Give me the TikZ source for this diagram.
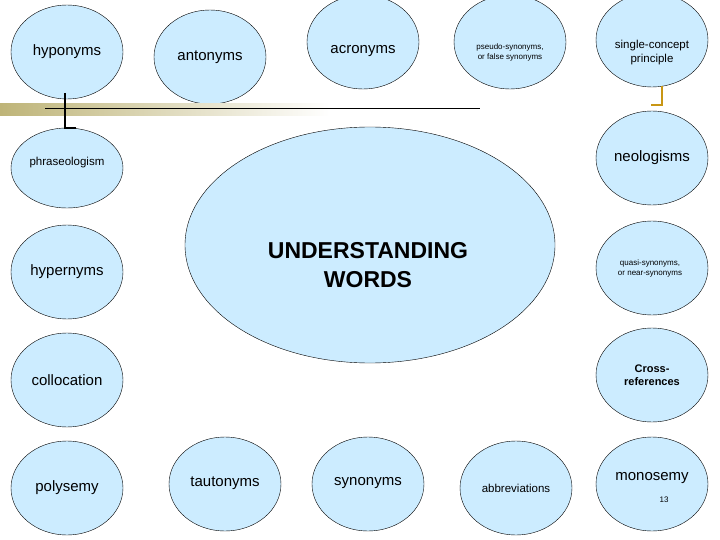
\documentclass[tikz,border=0pt]{standalone}
\usetikzlibrary{shapes.geometric}
\usepackage{fontspec}
\setmainfont{Liberation Sans}
\definecolor{bubble}{RGB}{204,236,255}
\definecolor{gold}{RGB}{200,150,20}
\definecolor{bar}{RGB}{190,180,120}
\begin{document}
\begin{tikzpicture}[x=1pt,y=-1pt,
  bub/.style={ellipse,draw=black,fill=bubble,minimum width=112pt,minimum height=94pt,align=center,inner sep=0pt,font=\fontsize{15}{17}\selectfont},
  big/.style={font=\fontsize{15}{17}\selectfont},
  sm/.style={font=\fontsize{8}{10}\selectfont},
  md/.style={font=\fontsize{11.5}{14}\selectfont}]
\useasboundingbox (0,0) rectangle (720,540);
% center
\node[ellipse,draw=black,fill=bubble,minimum width=370pt,minimum height=236pt] (c) at (370,245) {};
\node[font=\bfseries\fontsize{23}{29}\selectfont,align=center] (ct) at (368,265) {UNDERSTANDING\\WORDS};
% row 1
\node[bub] (hypo) at (67,52) {hyponyms};
\node[bub] (anto) at (210,57) {antonyms};
\node[bub] (acro) at (363,42) {};
\node[big] at (363,51) (acrot) {acronyms};
\node[bub] (pseu) at (510,42) {};
\node[sm,align=center] (pseut) at (510,52) {pseudo-synonyms,\\or false synonyms};
\node[bub] (sing) at (652,40) {};
\node[md,align=center] (singt) at (652,53) {single-concept\\principle};
% left column
\node[bub,minimum height=80pt] (phra) at (67,168) {};
\node[md] (phrat) at (67,163) {phraseologism};
\node[bub] (hype) at (67,272) {hypernyms};
\node[bub] (coll) at (67,380) {collocation};
% right column
\node[bub] (neol) at (652,158) {};
\node[big] (neolt) at (652,158) {neologisms};
\node[bub] (quas) at (652,268) {};
\node[sm,align=center] (quast) at (650,268) {quasi-synonyms,\\or near-synonyms};
\node[bub] (cros) at (652,375) {};
\node[align=center,font=\bfseries\fontsize{11}{13}\selectfont] (crost) at (652,375) {Cross-\\references};
% bottom row
\node[bub] (poly) at (67,488) {polysemy};
\node[bub] (taut) at (225,484) {};
\node[big] (tautt) at (225,483) {tautonyms};
\node[bub] (syno) at (368,484) {};
\node[big] (synot) at (368,483) {synonyms};
\node[bub] (abbr) at (516,488) {};
\node[md] (abbrt) at (516,488) {abbreviations};
\node[bub] (mono) at (652,484) {};
\node[big] (monot) at (652,478) {monosemy};
\node[font=\fontsize{8}{9}\selectfont] (num) at (664,500) {13};
% decorations
\shade[left color=bar,right color=white] (0,104) rectangle (330,116);
\coordinate (la) at (45,108);
\coordinate (lb) at (480,108);
\draw[thin] (la) -- (lb);
\coordinate (b1) at (65,93); \coordinate (b2) at (65,128); \coordinate (b3) at (76,128);
\draw[line width=2.5pt] (b1) -- (b2) -- (b3);
\coordinate (g1) at (662,86); \coordinate (g2) at (662,105); \coordinate (g3) at (651,105);
\draw[gold,line width=2.5pt] (g1) -- (g2) -- (g3);
\end{tikzpicture}
\end{document}
